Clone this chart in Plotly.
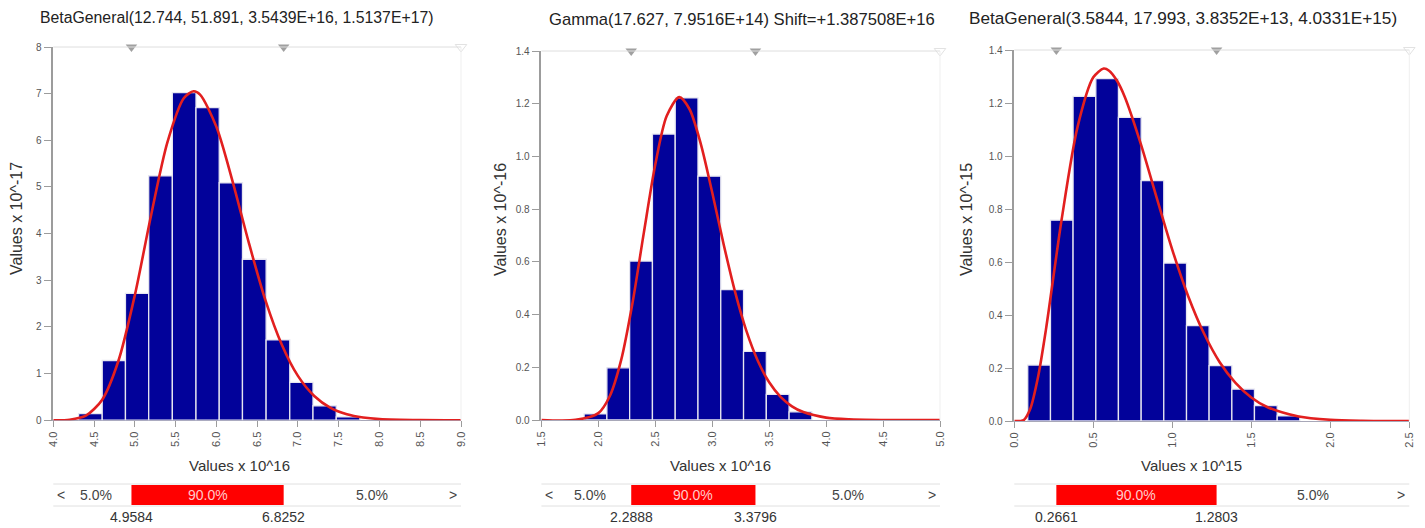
import numpy as np
import plotly.graph_objects as go

W, H = 1425, 528
FONT = "Liberation Sans, Arial, sans-serif"

# ---------------- data ----------------
titles = [
    "BetaGeneral(12.744, 51.891, 3.5439E+16, 1.5137E+17)",
    "Gamma(17.627, 7.9516E+14) Shift=+1.387508E+16",
    "BetaGeneral(3.5844, 17.993, 3.8352E+13, 4.0331E+15)",
]
y_titles = ["Values x 10^-17", "Values x 10^-16", "Values x 10^-15"]
x_titles = ["Values x 10^16", "Values x 10^16", "Values x 10^15"]

# histogram bin edges and heights
edges1 = [4.31, 4.60, 4.885, 5.17, 5.46, 5.75, 6.035, 6.32, 6.61, 6.90, 7.185, 7.47, 7.76]
heights1 = [0.14, 1.28, 2.72, 5.24, 7.02, 6.70, 5.09, 3.45, 1.72, 0.81, 0.31, 0.07]

edges2 = [1.875, 2.075, 2.275, 2.475, 2.675, 2.875, 3.075, 3.275, 3.475, 3.675, 3.875]
heights2 = [0.023, 0.198, 0.603, 1.085, 1.222, 0.925, 0.495, 0.26, 0.097, 0.031]

edges3 = [0.085, 0.229, 0.372, 0.516, 0.659, 0.803, 0.946, 1.090, 1.233, 1.377, 1.520, 1.664, 1.807]
heights3 = [0.211, 0.758, 1.225, 1.292, 1.146, 0.907, 0.596, 0.360, 0.209, 0.120, 0.058, 0.019]

# fitted density curves
curve1_x = [4.0, 4.2, 4.4, 4.6, 4.8, 5.0, 5.2, 5.4, 5.6, 5.72, 5.8, 6.0, 6.2, 6.4, 6.6,
            6.8, 7.0, 7.2, 7.4, 7.6, 7.8, 8.0, 8.5, 9.0]
curve1_y = [0.0, 0.011, 0.098, 0.44, 1.28, 2.68, 4.40, 5.96, 6.90, 7.05, 6.98, 6.29, 5.11,
            3.79, 2.58, 1.63, 0.95, 0.52, 0.265, 0.127, 0.057, 0.024, 0.002, 0.0]

curve2_x = [1.5, 1.8, 2.0, 2.1, 2.2, 2.3, 2.4, 2.5, 2.6, 2.71, 2.8, 2.9, 3.0, 3.1, 3.2,
            3.3, 3.4, 3.5, 3.6, 3.7, 3.8, 4.0, 4.2, 4.5, 5.0]
curve2_y = [0.0, 0.0004, 0.026, 0.090, 0.227, 0.444, 0.712, 0.969, 1.153, 1.225, 1.180,
            1.047, 0.863, 0.667, 0.487, 0.338, 0.225, 0.143, 0.088, 0.052, 0.030, 0.009,
            0.0025, 0.0002, 0.0]

curve3_x = [0.0, 0.04, 0.06, 0.1, 0.15, 0.2, 0.3, 0.4, 0.5, 0.566, 0.6, 0.65, 0.7, 0.8,
            0.9, 1.0, 1.1, 1.2, 1.3, 1.4, 1.5, 1.6, 1.8, 2.0, 2.2, 2.5]
curve3_y = [0.0, 0.0, 0.0035, 0.044, 0.165, 0.344, 0.762, 1.109, 1.297, 1.33, 1.322, 1.284,
            1.222, 1.047, 0.845, 0.646, 0.472, 0.331, 0.222, 0.144, 0.089, 0.053, 0.017,
            0.0046, 0.001, 0.0]

# 5% / 95% percentiles
pct1 = [4.9584, 6.8252]
pct2 = [2.2888, 3.3796]
pct3 = [0.2661, 1.2803]
pct_labels = ["4.9584", "6.8252"], ["2.2888", "3.3796"], ["0.2661", "1.2803"]
pct_mid = "90.0%"
pct_tail = "5.0%"

x_ranges = [[4.0, 9.0], [1.5, 5.0], [0.0, 2.5]]
y_ranges = [[0, 8], [0, 1.4], [0, 1.4]]
x_dticks = [0.5, 0.5, 0.5]
y_dticks = [1, 0.2, 0.2]
y_formats = ["d", ".1f", ".1f"]

# ---------------- layout geometry (pixels) ----------------
plot_px = [  # left, right, top, bottom
    (53.3, 461.0, 47.0, 420.2),
    (541.4, 940.0, 51.0, 420.0),
    (1014.3, 1409.3, 50.0, 421.0),
]
title_pos = [(236, 18), (742, 20), (1183, 18)]
title_sizes = [15.8, 16.6, 17.2]
ytitle_pos = [(16, 219), (500, 220), (966, 219)]
xtitle_pos = [(239, 465), (720, 465), (1191, 465)]
bar_top_px, bar_bot_px = 485.0, 505.0
label_y_px = 517.0


def fx(p):
    return p / W


def fy(p):
    return 1 - p / H


BAR_COLOR = "#02029a"
CURVE_COLOR = "#e21f1f"
AXIS_COLOR = "#9c9c9c"

fig = go.Figure()
shapes, annotations = [], []
layout = {}

all_edges = [edges1, edges2, edges3]
all_heights = [heights1, heights2, heights3]
all_cx = [curve1_x, curve2_x, curve3_x]
all_cy = [curve1_y, curve2_y, curve3_y]
all_pct = [pct1, pct2, pct3]


def ann(**kw):
    base = dict(showarrow=False, xanchor="center", yanchor="middle")
    base.update(kw)
    annotations.append(base)


for i in range(3):
    n = "" if i == 0 else str(i + 1)
    xa, ya = "x" + n, "y" + n
    left, right, top, bottom = plot_px[i]
    e = np.array(all_edges[i])
    centers = (e[:-1] + e[1:]) / 2
    widths = np.diff(e)

    fig.add_trace(go.Bar(
        x=centers, y=all_heights[i], width=widths, xaxis=xa, yaxis=ya,
        marker=dict(color=BAR_COLOR, line=dict(color="#e6e6f0", width=1.3)),
        hoverinfo="skip"))
    fig.add_trace(go.Scatter(
        x=all_cx[i], y=all_cy[i], mode="lines", xaxis=xa, yaxis=ya,
        line=dict(color=CURVE_COLOR, width=2.6, shape="spline", smoothing=0.8),
        hoverinfo="skip"))
    # percentile markers on top edge
    ymax = y_ranges[i][1]
    fig.add_trace(go.Scatter(
        x=all_pct[i], y=[ymax, ymax], mode="markers", xaxis=xa, yaxis=ya,
        marker=dict(symbol="triangle-down", size=10, color="#a0a0a0"),
        cliponaxis=False, hoverinfo="skip"))
    fig.add_trace(go.Scatter(
        x=[x_ranges[i][1]], y=[ymax], mode="markers", xaxis=xa, yaxis=ya,
        marker=dict(symbol="triangle-down-open", size=10, color="#e2e2e2"),
        cliponaxis=False, hoverinfo="skip"))

    layout["xaxis" + n] = dict(
        domain=[fx(left), fx(right)], anchor=ya, range=x_ranges[i],
        dtick=x_dticks[i], tick0=x_ranges[i][0], tickformat=".1f", tickangle=-90,
        showline=True, linecolor="#a8a8b8", linewidth=1,
        ticks="outside", ticklen=6, tickcolor=AXIS_COLOR, showgrid=False, zeroline=False,
        tickfont=dict(family=FONT, size=11, color="#555555"), layer="below traces",
        automargin=False)
    layout["yaxis" + n] = dict(
        domain=[fy(bottom), fy(top)], anchor=xa, range=y_ranges[i],
        dtick=y_dticks[i], tickformat=y_formats[i],
        showline=True, linecolor=AXIS_COLOR, linewidth=1.5,
        ticks="outside", ticklen=8, tickcolor=AXIS_COLOR, showgrid=False, zeroline=False,
        tickfont=dict(family=FONT, size=10, color="#555555"), automargin=False)

    # faint top and right frame lines
    shapes.append(dict(type="line", xref=xa + " domain", yref=ya + " domain",
                       x0=0, x1=1, y0=1, y1=1, line=dict(color="#dedede", width=1)))
    shapes.append(dict(type="line", xref=xa + " domain", yref=ya + " domain",
                       x0=1, x1=1, y0=0, y1=1, line=dict(color="#efefef", width=1)))

    # percent bar
    lo, hi = all_pct[i]
    for yy in (bar_top_px - 1, bar_bot_px + 1):
        shapes.append(dict(type="line", xref=xa + " domain", yref="paper",
                           x0=0, x1=1, y0=fy(yy), y1=fy(yy),
                           line=dict(color="#e0e0e0", width=1)))
    shapes.append(dict(type="rect", xref=xa, yref="paper", x0=lo, x1=hi,
                       y0=fy(bar_bot_px), y1=fy(bar_top_px),
                       fillcolor="#ff0000", line=dict(width=0)))
    ymid = fy((bar_top_px + bar_bot_px) / 2)
    txt = dict(family=FONT, size=14, color="#444444")
    ann(xref=xa, yref="paper", x=(lo + hi) / 2, y=ymid, text=pct_mid,
        font=dict(family=FONT, size=14, color="#ffcaca"))
    x0r, x1r = x_ranges[i]
    span = x1r - x0r
    pxw = right - left
    if (lo - x0r) / span * pxw > 60:
        ann(xref=xa + " domain", yref="paper", x=0, y=ymid, xanchor="left", xshift=2,
            text="<", font=txt)
        ann(xref=xa, yref="paper", x=(x0r + lo) / 2 + span * 0.008, y=ymid,
            text=pct_tail, font=txt)
    ann(xref=xa + " domain", yref="paper", x=1, y=ymid, xanchor="right", xshift=-2,
        text=">", font=txt)
    ann(xref=xa, yref="paper", x=(hi + x1r) / 2, y=ymid, text=pct_tail, font=txt)
    for val, lab in zip(all_pct[i], pct_labels[i]):
        ann(xref=xa, yref="paper", x=val, y=fy(label_y_px), text=lab,
            font=dict(family=FONT, size=14, color="#333333"))

    # titles
    tx, ty = title_pos[i]
    ann(xref="paper", yref="paper", x=fx(tx), y=fy(ty), text=titles[i],
        font=dict(family=FONT, size=title_sizes[i], color="#222222"))
    yx, yy_ = ytitle_pos[i]
    ann(xref="paper", yref="paper", x=fx(yx), y=fy(yy_),
        text=y_titles[i], textangle=-90,
        font=dict(family=FONT, size=16, color="#333333"))
    gx, gy = xtitle_pos[i]
    ann(xref="paper", yref="paper", x=fx(gx), y=fy(gy), text=x_titles[i],
        font=dict(family=FONT, size=15, color="#333333"))

fig.update_layout(
    width=W, height=H, margin=dict(l=0, r=0, t=0, b=0, pad=0), autosize=False,
    paper_bgcolor="white", plot_bgcolor="white", showlegend=False,
    shapes=shapes, annotations=annotations, **layout)

fig.write_html("out.html")
